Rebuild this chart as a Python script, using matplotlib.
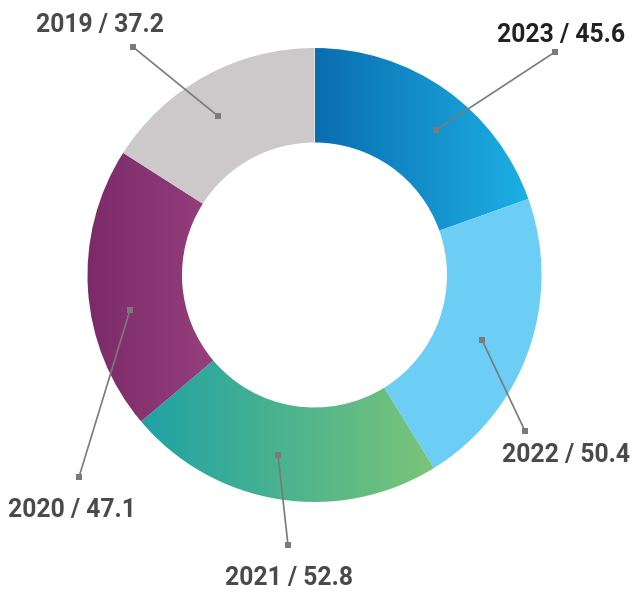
import numpy as np
import matplotlib.pyplot as plt
from matplotlib.patches import Wedge
from matplotlib.colors import LinearSegmentedColormap

plt.rcParams['font.family'] = ['Roboto', 'DejaVu Sans']

# data, clockwise from 12 o'clock
years = ["2023", "2022", "2021", "2020", "2019"]
values = [45.6, 50.4, 52.8, 47.1, 37.2]
# left -> right colour of each slice (same colour = flat fill)
colors_left = ["#0a6db0", "#6ccef5", "#1fa2a5", "#7b2a68", "#cdc9ca"]
colors_right = ["#1cb0e4", "#6ccef5", "#7ac578", "#ab508e", "#cdc9ca"]
label_colors = ["#222222", "#4a4a4a", "#4a4a4a", "#4a4a4a", "#4a4a4a"]

# leader lines (pixel coords: inner dot, outer dot, label centre)
leaders = [
    ((436, 130), (555, 52), (561, 35)),
    ((482, 340), (525, 431), (566, 455)),
    ((278, 455), (288, 545), (289, 578)),
    ((130, 310), (79, 477), (72, 510)),
    ((218, 116), (133, 47), (100, 25)),
]

W, H = 638, 592
fig = plt.figure(figsize=(W / 100, H / 100), dpi=100)
ax = fig.add_axes([0, 0, 1, 1])
ax.set_xlim(0, W)
ax.set_ylim(0, H)
ax.set_aspect('equal')
ax.axis('off')

cx, cy = 314.5, H - 275
r_out, r_in = 227, 132.5

total = sum(values)
start = 90.0
for i, v in enumerate(values):
    span = 360.0 * v / total
    w = Wedge((cx, cy), r_out, start - span, start, width=r_out - r_in,
              facecolor='none', edgecolor='none')
    ax.add_patch(w)
    # horizontal gradient across the slice's bounding box
    verts = w.get_path().vertices
    x0, x1 = verts[:, 0].min(), verts[:, 0].max()
    y0, y1 = verts[:, 1].min(), verts[:, 1].max()
    cmap = LinearSegmentedColormap.from_list('g%d' % i, [colors_left[i], colors_right[i]])
    grad = np.linspace(0, 1, 256).reshape(1, -1)
    im = ax.imshow(grad, cmap=cmap, extent=[x0, x1, y0, y1], aspect='auto',
                   interpolation='bilinear', zorder=1)
    im.set_clip_path(w)
    start -= span

for i, ((ix, iy), (ox, oy), (lx, ly)) in enumerate(leaders):
    ax.plot([ix, ox], [H - iy, H - oy], color='#7a7a7a', lw=1.2, zorder=3,
            marker='s', markersize=4.5, markerfacecolor='#7a7a7a', markeredgewidth=0)
    ax.text(lx, H - ly, "%s / %.1f" % (years[i], values[i]), ha='center', va='center',
            fontsize=17.8, fontweight='bold', color=label_colors[i], zorder=4)

fig.savefig("out.png", dpi=100)
